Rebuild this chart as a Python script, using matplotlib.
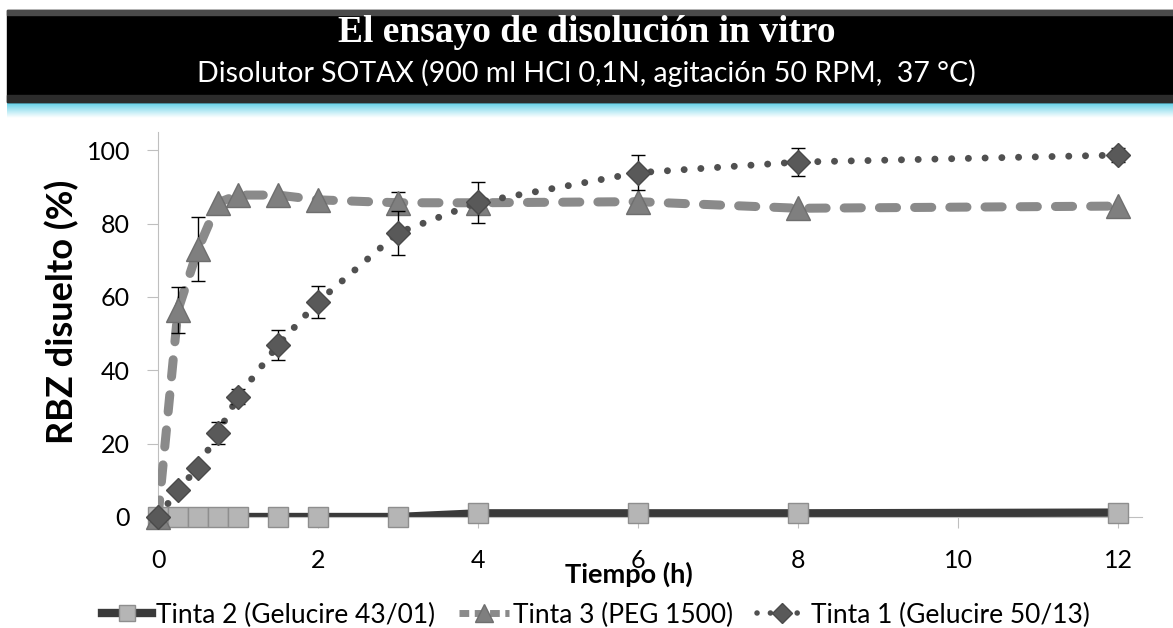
import numpy as np
import matplotlib
matplotlib.use("Agg")
from matplotlib import pyplot as plt
from matplotlib.patches import Rectangle
from matplotlib.lines import Line2D

plt.rcParams['font.family'] = ['Lato', 'DejaVu Sans']

# datos
time_h = [0, 0.25, 0.5, 0.75, 1, 1.5, 2, 3, 4, 6, 8, 12]
tinta2 = [0, 0, 0, 0, 0, 0, 0, 0, 1, 1, 1, 1.2]
tinta3 = [0, 56.5, 73, 85.7, 87.8, 87.8, 86.5, 85.7, 85.7, 86, 84.2, 84.8]
tinta3_err = [0, 6.2, 8.7, 0, 0, 0, 0, 3, 0, 0, 0, 0]
tinta1 = [0, 7.4, 13.5, 23, 32.8, 46.9, 58.7, 77.5, 85.8, 93.9, 96.8, 98.7]
tinta1_err = [0, 0, 0, 3, 2, 4.2, 4.3, 6, 5.6, 4.8, 3.8, 1.8]

labels = ["Tinta 2 (Gelucire 43/01)", "Tinta 3 (PEG 1500)", "Tinta 1 (Gelucire 50/13)"]
x_ticks = [0, 2, 4, 6, 8, 10, 12]
y_ticks = [0, 20, 40, 60, 80, 100]

W, H = 1173, 628
fig = plt.figure(figsize=(W / 100, H / 100), dpi=100)

# banda del titulo
bg = fig.add_axes([0, 0, 1, 1], zorder=-1)
bg.add_patch(Rectangle((7, 10), W - 7, 92, color='black'))
bg.add_patch(Rectangle((7, 10), W - 7, 5, color='#4a4a4a'))
bg.add_patch(Rectangle((7, 95), W - 7, 7, color='#2c2c2c'))
t = np.linspace(0, 1, 40)[:, None]
top_col = np.array([0.33, 0.80, 0.90])
grad = top_col + (1 - top_col) * (t ** 0.9)
bg.imshow(grad.reshape(40, 1, 3), extent=(7, W, 118, 102), aspect='auto')
bg.set_xlim(0, W)
bg.set_ylim(H, 0)
bg.axis('off')

fig.text(0.5, 1 - 42 / H, "El ensayo de disolución in vitro", color='white',
         family='Liberation Serif', weight='bold', fontsize=27, ha='center', va='baseline')
fig.text(0.5, 1 - 82 / H, "Disolutor SOTAX (900 ml HCl 0,1N, agitación 50 RPM,  37 °C)",
         color='white', fontsize=20.5, ha='center', va='baseline')

# area del grafico
ax = fig.add_axes([158 / W, 1 - 517 / H, (1142 - 158) / W, (517 - 132) / H])
ax.set_xlim(0, 12.3)
ax.set_ylim(0, 105)
ax.set_xticks(x_ticks)
ax.set_yticks(y_ticks)
for s in ['top', 'right']:
    ax.spines[s].set_visible(False)
for s in ['left', 'bottom']:
    ax.spines[s].set_color('#bfbfbf')
ax.tick_params(direction='out', length=8, color='#bfbfbf', labelsize=18)
ax.tick_params(axis='x', pad=15)
ax.tick_params(axis='y', pad=12)

x = np.array(time_h)

# Tinta 2
ax.plot(x, tinta2, color='#3a3a3a', lw=6, solid_capstyle='butt', zorder=2)
ax.plot(x, tinta2, ls='none', marker='s', ms=15, mfc='#b5b5b5', mec='#8e8e8e', mew=1,
        clip_on=False, zorder=3)

# Tinta 3
e3 = np.array(tinta3_err)
m3 = e3 > 0
ax.plot(x, tinta3, color='#8a8a8a', lw=6.5, dashes=(1.9, 2.0), dash_capstyle='round', zorder=4)
ax.errorbar(x[m3], np.array(tinta3)[m3], yerr=e3[m3], fmt='none', ecolor='black',
            elinewidth=1, capsize=5, zorder=5)
ax.plot(x, tinta3, ls='none', marker='^', ms=17, mfc='#7f7f7f', mec='#6e6e6e', mew=1,
        clip_on=False, zorder=6)

# Tinta 1
e1 = np.array(tinta1_err)
m1 = e1 > 0
ax.plot(x, tinta1, color='#505050', lw=5, dashes=(0.01, 2.4), dash_capstyle='round', zorder=7)
ax.errorbar(x[m1], np.array(tinta1)[m1], yerr=e1[m1], fmt='none', ecolor='black',
            elinewidth=1, capsize=5, zorder=8)
ax.plot(x, tinta1, ls='none', marker='D', ms=12.5, mfc='#595959', mec='#4a4a4a', mew=1,
        clip_on=False, zorder=9)

fig.text(62 / W, 1 - 312 / H, "RBZ disuelto (%)", rotation=90, weight='bold',
         fontsize=26, ha='center', va='center')
fig.text(629 / W, 1 - 574 / H, "Tiempo (h)", weight='bold', fontsize=19.5,
         ha='center', va='center')

handles = [
    Line2D([], [], color='#3a3a3a', lw=6, marker='s', ms=12, mfc='#b5b5b5', mec='#8e8e8e'),
    Line2D([], [], color='#8a8a8a', lw=5, dashes=(1.4, 0.8), marker='^', ms=13,
           mfc='#7f7f7f', mec='#6e6e6e'),
    Line2D([], [], color='#505050', lw=4, dashes=(0.01, 2.4), dash_capstyle='round',
           marker='D', ms=10, mfc='#595959', mec='#4a4a4a'),
]
fig.legend(handles, labels, ncol=3, loc='center', bbox_to_anchor=(596 / W, 1 - 615 / H),
           frameon=False, fontsize=19, handlelength=1.9, handletextpad=0.15,
           columnspacing=0.9, borderpad=0, borderaxespad=0)

fig.savefig("out.png", dpi=100)
